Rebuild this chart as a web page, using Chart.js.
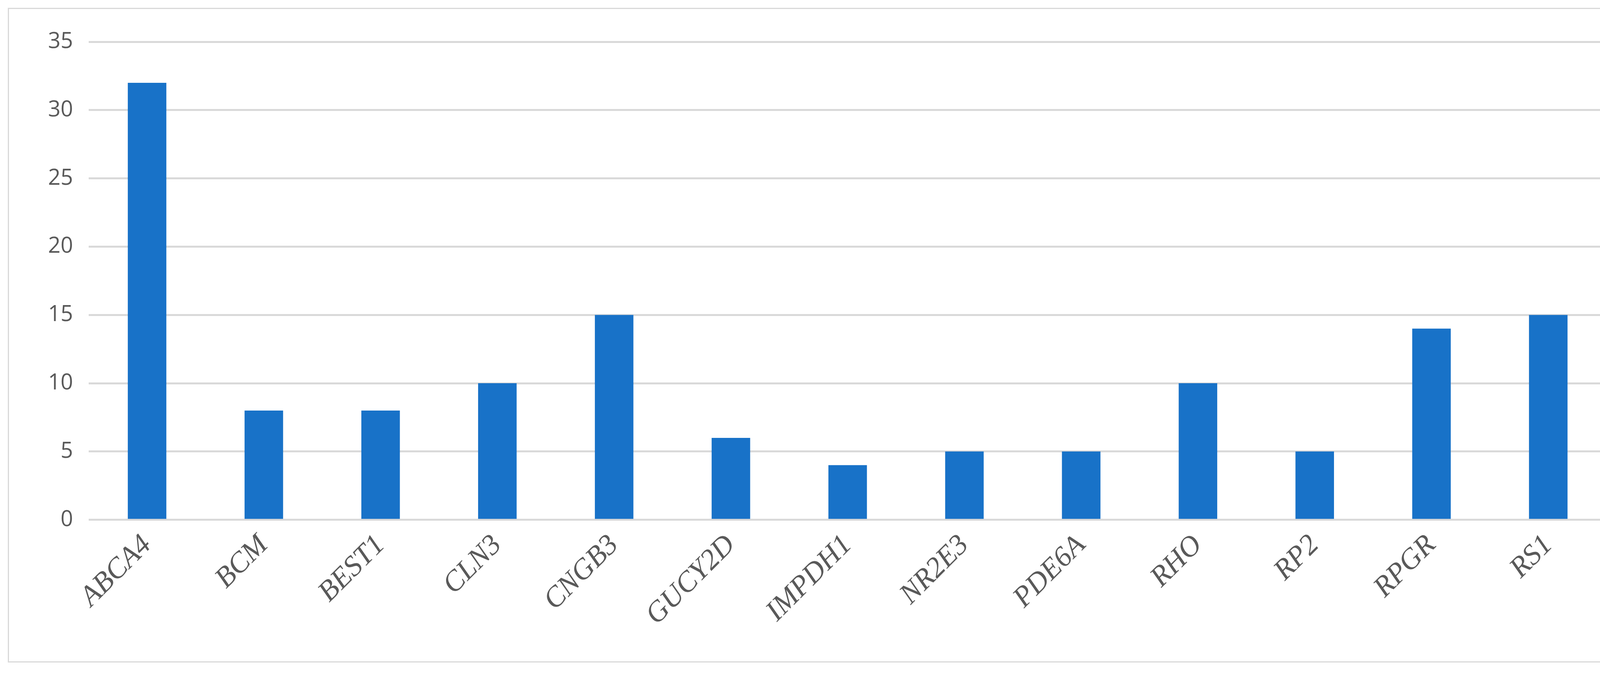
<!DOCTYPE html>
<html>
<head>
<meta charset="utf-8">
<script src="https://cdn.jsdelivr.net/npm/chart.js@4"></script>
<style>
  html, body { margin: 0; padding: 0; background: #fff; overflow: hidden; }
  #frame {
    position: absolute; left: 20px; top: 20px;
    width: 4196px; height: 1676px;
    border: 3px solid #d9d9d9; box-sizing: border-box;
  }
  #wrap { position: absolute; left: 0; top: 0; width: 4190px; height: 1670px; }
</style>
</head>
<body>
<div id="frame"><div id="wrap"><canvas id="chart"></canvas></div></div>
<script>
// Genes and counts
const genes = ["ABCA4", "BCM", "BEST1", "CLN3", "CNGB3", "GUCY2D", "IMPDH1", "NR2E3", "PDE6A", "RHO", "RP2", "RPGR", "RS1"];
const counts = [32, 8, 8, 10, 15, 6, 4, 5, 5, 10, 5, 14, 15];
const yTicks = [0, 5, 10, 15, 20, 25, 30, 35];

const ctx = document.getElementById("chart").getContext("2d");
new Chart(ctx, {
  type: "bar",
  data: {
    labels: genes,
    datasets: [{ data: counts, backgroundColor: "#1872c8", categoryPercentage: 1, barPercentage: 0.33 }]
  },
  options: {
    responsive: true,
    maintainAspectRatio: false,
    animation: false,
    layout: { padding: { left: 60, right: 100, top: 84, bottom: 60 } },
    plugins: { legend: { display: false }, tooltip: { enabled: false } },
    scales: {
      x: {
        grid: { display: false },
        border: { display: false },
        ticks: {
          color: "#595959", minRotation: 45, maxRotation: 45, padding: 14,
          font: { family: "Liberation Serif", style: "italic", size: 74 }
        }
      },
      y: {
        min: 0, max: 35,
        afterBuildTicks: axis => { axis.ticks = yTicks.map(v => ({ value: v })); },
        grid: { color: "#d9d9d9", lineWidth: 5, drawTicks: false },
        border: { display: false },
        ticks: {
          color: "#595959", padding: 40,
          font: { family: "Open Sans", size: 56 }
        }
      }
    }
  }
});
</script>
</body>
</html>
